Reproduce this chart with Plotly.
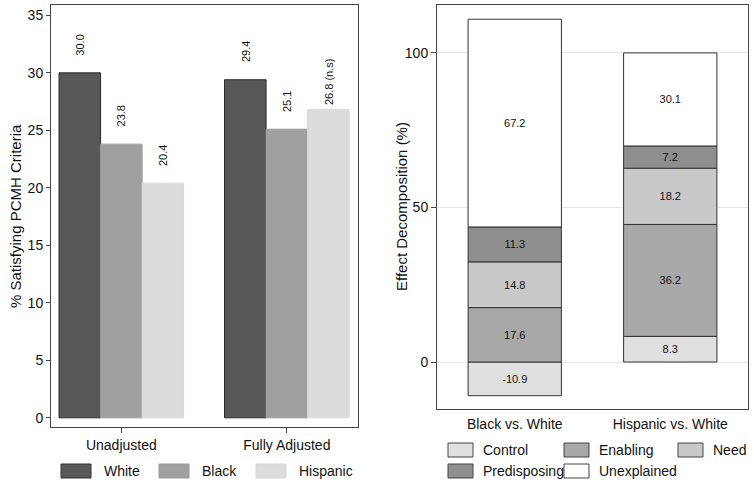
import numpy as np
import plotly.graph_objects as go

# ---------------- data ----------------
adj_categories = ["Unadjusted", "Fully Adjusted"]
race_series = ["White", "Black", "Hispanic"]
white_vals = [30.0, 29.4]
black_vals = [23.8, 25.1]
hispanic_vals = [20.4, 26.8]
adj_labels_white = ["30.0", "29.4"]
adj_labels_black = ["23.8", "25.1"]
adj_labels_hispanic = ["20.4", "26.8 (n.s)"]

comparisons = ["Black vs. White", "Hispanic vs. White"]
components = ["Control", "Enabling", "Need", "Predisposing", "Unexplained"]
control_vals = [-10.9, 8.3]
enabling_vals = [17.6, 36.2]
need_vals = [14.8, 18.2]
predisposing_vals = [11.3, 7.2]
unexplained_vals = [67.2, 30.1]

left_yticks = [0, 5, 10, 15, 20, 25, 30, 35]
right_yticks = [0, 50, 100]

# ---------------- styles ----------------
W, H = 754, 485
FONT = "Liberation Sans, Arial, Helvetica, sans-serif"
TXT = "#111111"
FRAME = "#444444"

race_colors = {"White": "#58585a", "Black": "#a0a0a0", "Hispanic": "#dcdcdc"}
race_lines = {"White": "#2a2a2a", "Black": "#9c9c9c", "Hispanic": "#d8d8d8"}
comp_colors = {"Control": "#e0e0e0", "Enabling": "#a8a8a8", "Need": "#c9c9c9",
               "Predisposing": "#8e8e8e", "Unexplained": "#ffffff"}

def px(x):
    return x / W

def py(y):
    return 1 - y / H

fig = go.Figure()

# ---- left panel: grouped bars on a numeric axis ----
bar_w = 0.251
offsets = {"White": -bar_w, "Black": 0.0, "Hispanic": bar_w}
left_data = {"White": (white_vals, adj_labels_white),
             "Black": (black_vals, adj_labels_black),
             "Hispanic": (hispanic_vals, adj_labels_hispanic)}
cat_idx = np.arange(len(adj_categories))
annotations = []
for s in race_series:
    vals, labs = left_data[s]
    xs = cat_idx + offsets[s]
    fig.add_trace(go.Bar(
        x=xs, y=vals, width=bar_w, name=s, showlegend=False,
        marker=dict(color=race_colors[s], line=dict(color=race_lines[s], width=1)),
        xaxis="x", yaxis="y", hoverinfo="skip"))
    for xv, yv, t in zip(xs, vals, labs):
        annotations.append(dict(
            x=xv, y=yv, xref="x", yref="y", text=t, showarrow=False,
            textangle=-90, xanchor="center", yanchor="middle", yshift=28,
            font=dict(family=FONT, size=11, color=TXT)))

# ---- right panel: stacked (relative) bars ----
right_data = {"Control": control_vals, "Enabling": enabling_vals, "Need": need_vals,
              "Predisposing": predisposing_vals, "Unexplained": unexplained_vals}
for c in components:
    vals = right_data[c]
    fig.add_trace(go.Bar(
        x=comparisons, y=vals, width=0.6, name=c, showlegend=False,
        text=[f"{v:.1f}" for v in vals], textposition="inside",
        insidetextanchor="middle", textangle=0, constraintext="none",
        textfont=dict(family=FONT, size=11, color=TXT),
        marker=dict(color=comp_colors[c], line=dict(color="#333333", width=1)),
        xaxis="x2", yaxis="y2", hoverinfo="skip"))

axis_font = dict(family=FONT, size=14, color=TXT)

fig.update_layout(
    width=W, height=H, margin=dict(l=0, r=0, t=0, b=0),
    paper_bgcolor="white", plot_bgcolor="white",
    barmode="relative", showlegend=False,
    font=dict(family=FONT, color=TXT),
    xaxis=dict(domain=[px(51), px(358)], range=[-0.425, 1.43],
               tickvals=list(cat_idx), ticktext=adj_categories,
               ticks="outside", ticklen=5, tickcolor=FRAME,
               showline=True, linecolor=FRAME, linewidth=1, mirror=True,
               showgrid=False, zeroline=False, tickfont=axis_font, anchor="y"),
    yaxis=dict(domain=[py(427), py(5)], range=[-0.8, 35.9],
               tickvals=left_yticks, ticks="outside", ticklen=4, tickcolor=FRAME,
               showline=True, linecolor=FRAME, linewidth=1, mirror=True,
               showgrid=False, zeroline=False, tickfont=axis_font, anchor="x"),
    xaxis2=dict(domain=[px(437), px(748)], range=[-0.5, 1.5],
                type="category", ticks="", ticklabelstandoff=2,
                showline=True, linecolor=FRAME, linewidth=1, mirror=True,
                showgrid=False, zeroline=False, tickfont=axis_font, anchor="y2"),
    yaxis2=dict(domain=[py(409), py(5)], range=[-15.2, 115.5],
                tickvals=right_yticks, ticks="outside", ticklen=5, tickcolor=FRAME,
                showline=True, linecolor=FRAME, linewidth=1, mirror=True,
                showgrid=True, gridcolor="#e6e6e6", gridwidth=1,
                zeroline=False, tickfont=axis_font, anchor="x2"),
)

# axis titles
annotations.append(dict(x=px(15), y=py(216), xref="paper", yref="paper",
                        text="% Satisfying PCMH Criteria", textangle=-90,
                        showarrow=False, xanchor="center", yanchor="middle",
                        font=dict(family=FONT, size=15, color=TXT)))
annotations.append(dict(x=px(401), y=py(207), xref="paper", yref="paper",
                        text="Effect Decomposition (%)", textangle=-90,
                        showarrow=False, xanchor="center", yanchor="middle",
                        font=dict(family=FONT, size=15, color=TXT)))

# ---- custom legends ----
shapes = []
left_leg = [("White", 61, 102), ("Black", 159, 200), ("Hispanic", 256, 297)]
for name, bx, tx in left_leg:
    shapes.append(dict(type="rect", xref="paper", yref="paper",
                       x0=px(bx), x1=px(bx + 30), y0=py(478), y1=py(464),
                       fillcolor=race_colors[name],
                       line=dict(color="#333333" if name == "White" else race_lines[name], width=1)))
    annotations.append(dict(x=px(tx), y=py(471), xref="paper", yref="paper",
                            text=name, showarrow=False, xanchor="left", yanchor="middle",
                            font=dict(family=FONT, size=14, color=TXT)))

right_leg = [("Control", 448, 481, 450), ("Enabling", 564, 597, 450), ("Need", 678, 711, 450),
             ("Predisposing", 448, 481, 471), ("Unexplained", 564, 597, 471)]
for name, bx, tx, cy in right_leg:
    shapes.append(dict(type="rect", xref="paper", yref="paper",
                       x0=px(bx), x1=px(bx + 25), y0=py(cy + 7), y1=py(cy - 7),
                       fillcolor=comp_colors[name], line=dict(color="#444444", width=1)))
    annotations.append(dict(x=px(tx), y=py(cy), xref="paper", yref="paper",
                            text=name, showarrow=False, xanchor="left", yanchor="middle",
                            font=dict(family=FONT, size=14, color=TXT)))

fig.update_layout(annotations=annotations, shapes=shapes)
fig.write_html(
    "out.html",
    config={"displayModeBar": False},
    post_script="document.body.style.margin='0';document.body.style.padding='0';document.body.style.overflow='hidden';",
)
